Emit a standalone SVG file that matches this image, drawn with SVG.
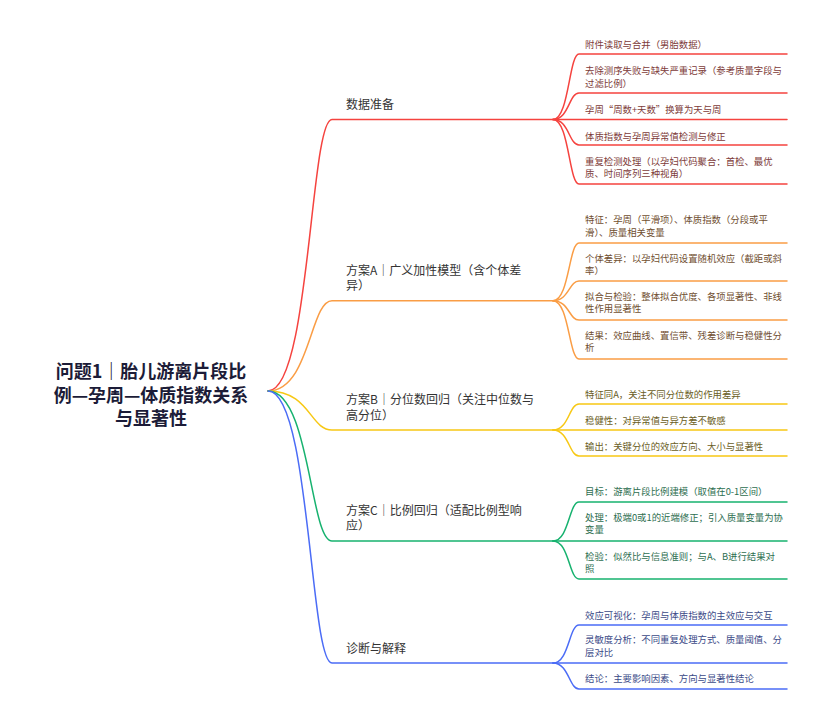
<svg xmlns="http://www.w3.org/2000/svg" width="821" height="724" viewBox="0 0 821 724">
<style>
.root{font-family:"Noto Sans CJK SC","Noto Sans",sans-serif;font-size:18px;font-weight:bold;fill:#1c1c38;text-anchor:middle}
.l1{font-family:"Noto Sans CJK SC","Noto Sans",sans-serif;font-size:12px;fill:#333333}
.lf{font-family:"Noto Sans CJK SC","Noto Sans",sans-serif;font-size:9.4px}
path,line{fill:none;stroke-width:1.5;stroke-linecap:round}
.red{stroke:#f5433f}.org{stroke:#fa9d45}.yel{stroke:#f7c815}.grn{stroke:#17b26f}.blu{stroke:#4b6cf6}
.tr{fill:#7d3b39}.to{fill:#6f4e2f}.ty{fill:#6a5d24}.tg{fill:#2d6e50}.tb{fill:#3b4a87}
</style>
<rect width="821" height="724" fill="#ffffff"/>
<g id="connectors">
<path class="red" d="M268,391 C310,391 310,119.5 332,119.5 L553,119.5"/>
<path class="org" d="M268,391 C310,391 310,300.7 332,300.7 L553,300.7"/>
<path class="yel" d="M268,391 C310,391 310,430 332,430 L553,430"/>
<path class="grn" d="M268,391 C310,391 310,541 332,541 L553,541"/>
<path class="blu" d="M268,391 C310,391 310,663 332,663 L553,663"/>
<path class="red" d="M553,119.5 C569,119.5 569,54 579,54 L787,54"/>
<path class="red" d="M553,119.5 C569,119.5 569,93 579,93 L787,93"/>
<path class="red" d="M553,119.5 L787,119.5"/>
<path class="red" d="M553,119.5 C569,119.5 569,145 579,145 L787,145"/>
<path class="red" d="M553,119.5 C569,119.5 569,184 579,184 L787,184"/>
<path class="org" d="M553,300.7 C569,300.7 569,243 579,243 L787,243"/>
<path class="org" d="M553,300.7 C569,300.7 569,281 579,281 L787,281"/>
<path class="org" d="M553,300.7 C569,300.7 569,320 579,320 L787,320"/>
<path class="org" d="M553,300.7 C569,300.7 569,359 579,359 L787,359"/>
<path class="yel" d="M553,430 C569,430 569,404 579,404 L787,404"/>
<path class="yel" d="M553,430 L787,430"/>
<path class="yel" d="M553,430 C569,430 569,456 579,456 L787,456"/>
<path class="grn" d="M553,541 C569,541 569,502 579,502 L787,502"/>
<path class="grn" d="M553,541 L787,541"/>
<path class="grn" d="M553,541 C569,541 569,579 579,579 L787,579"/>
<path class="blu" d="M553,663 C569,663 569,625 579,625 L787,625"/>
<path class="blu" d="M553,663 L787,663"/>
<path class="blu" d="M553,663 C569,663 569,689 579,689 L787,689"/>
</g>
<g id="root">
<text class="root" x="151" y="378">问题1｜胎儿游离片段比</text>
<text class="root" x="151" y="401.5">例—孕周—体质指数关系</text>
<text class="root" x="151" y="425">与显著性</text>
</g>
<g id="n-data"><text class="l1" x="346" y="108.5">数据准备</text></g>
<g id="n-a">
<text class="l1" x="346" y="274.5">方案A｜广义加性模型（含个体差</text>
<text class="l1" x="346" y="290">异）</text>
</g>
<g id="n-b">
<text class="l1" x="346" y="404">方案B｜分位数回归（关注中位数与</text>
<text class="l1" x="346" y="419.5">高分位）</text>
</g>
<g id="n-c">
<text class="l1" x="346" y="514.5">方案C｜比例回归（适配比例型响</text>
<text class="l1" x="346" y="530">应）</text>
</g>
<g id="n-diag"><text class="l1" x="346" y="652.5">诊断与解释</text></g>
<g id="r1"><text class="lf tr" x="585" y="47.5">附件读取与合并（男胎数据）</text></g>
<g id="r2"><text class="lf tr" x="585" y="74">去除测序失败与缺失严重记录（参考质量字段与</text><text class="lf tr" x="585" y="86.5">过滤比例）</text></g>
<g id="r3"><text class="lf tr" x="585" y="112.5">孕周“周数+天数”换算为天与周</text></g>
<g id="r4"><text class="lf tr" x="585" y="139.5">体质指数与孕周异常值检测与修正</text></g>
<g id="r5"><text class="lf tr" x="585" y="164.5">重复检测处理（以孕妇代码聚合：首检、最优</text><text class="lf tr" x="585" y="177">质、时间序列三种视角）</text></g>
<g id="o1"><text class="lf to" x="585" y="222.5">特征：孕周（平滑项）、体质指数（分段或平</text><text class="lf to" x="585" y="235.5">滑）、质量相关变量</text></g>
<g id="o2"><text class="lf to" x="585" y="261.5">个体差异：以孕妇代码设置随机效应（截距或斜</text><text class="lf to" x="585" y="274">率）</text></g>
<g id="o3"><text class="lf to" x="585" y="299.5">拟合与检验：整体拟合优度、各项显著性、非线</text><text class="lf to" x="585" y="312">性作用显著性</text></g>
<g id="o4"><text class="lf to" x="585" y="338.5">结果：效应曲线、置信带、残差诊断与稳健性分</text><text class="lf to" x="585" y="351">析</text></g>
<g id="y1"><text class="lf ty" x="585" y="397.5">特征同A，关注不同分位数的作用差异</text></g>
<g id="y2"><text class="lf ty" x="585" y="423.5">稳健性：对异常值与异方差不敏感</text></g>
<g id="y3"><text class="lf ty" x="585" y="449.5">输出：关键分位的效应方向、大小与显著性</text></g>
<g id="g1"><text class="lf tg" x="585" y="494.5">目标：游离片段比例建模（取值在0-1区间）</text></g>
<g id="g2"><text class="lf tg" x="585" y="520.5">处理：极端0或1的近端修正；引入质量变量为协</text><text class="lf tg" x="585" y="533">变量</text></g>
<g id="g3"><text class="lf tg" x="585" y="559.5">检验：似然比与信息准则；与A、B进行结果对</text><text class="lf tg" x="585" y="572">照</text></g>
<g id="b1"><text class="lf tb" x="585" y="618.5">效应可视化：孕周与体质指数的主效应与交互</text></g>
<g id="b2"><text class="lf tb" x="585" y="642.5">灵敏度分析：不同重复处理方式、质量阈值、分</text><text class="lf tb" x="585" y="656">层对比</text></g>
<g id="b3"><text class="lf tb" x="585" y="681.5">结论：主要影响因素、方向与显著性结论</text></g>
</svg>
